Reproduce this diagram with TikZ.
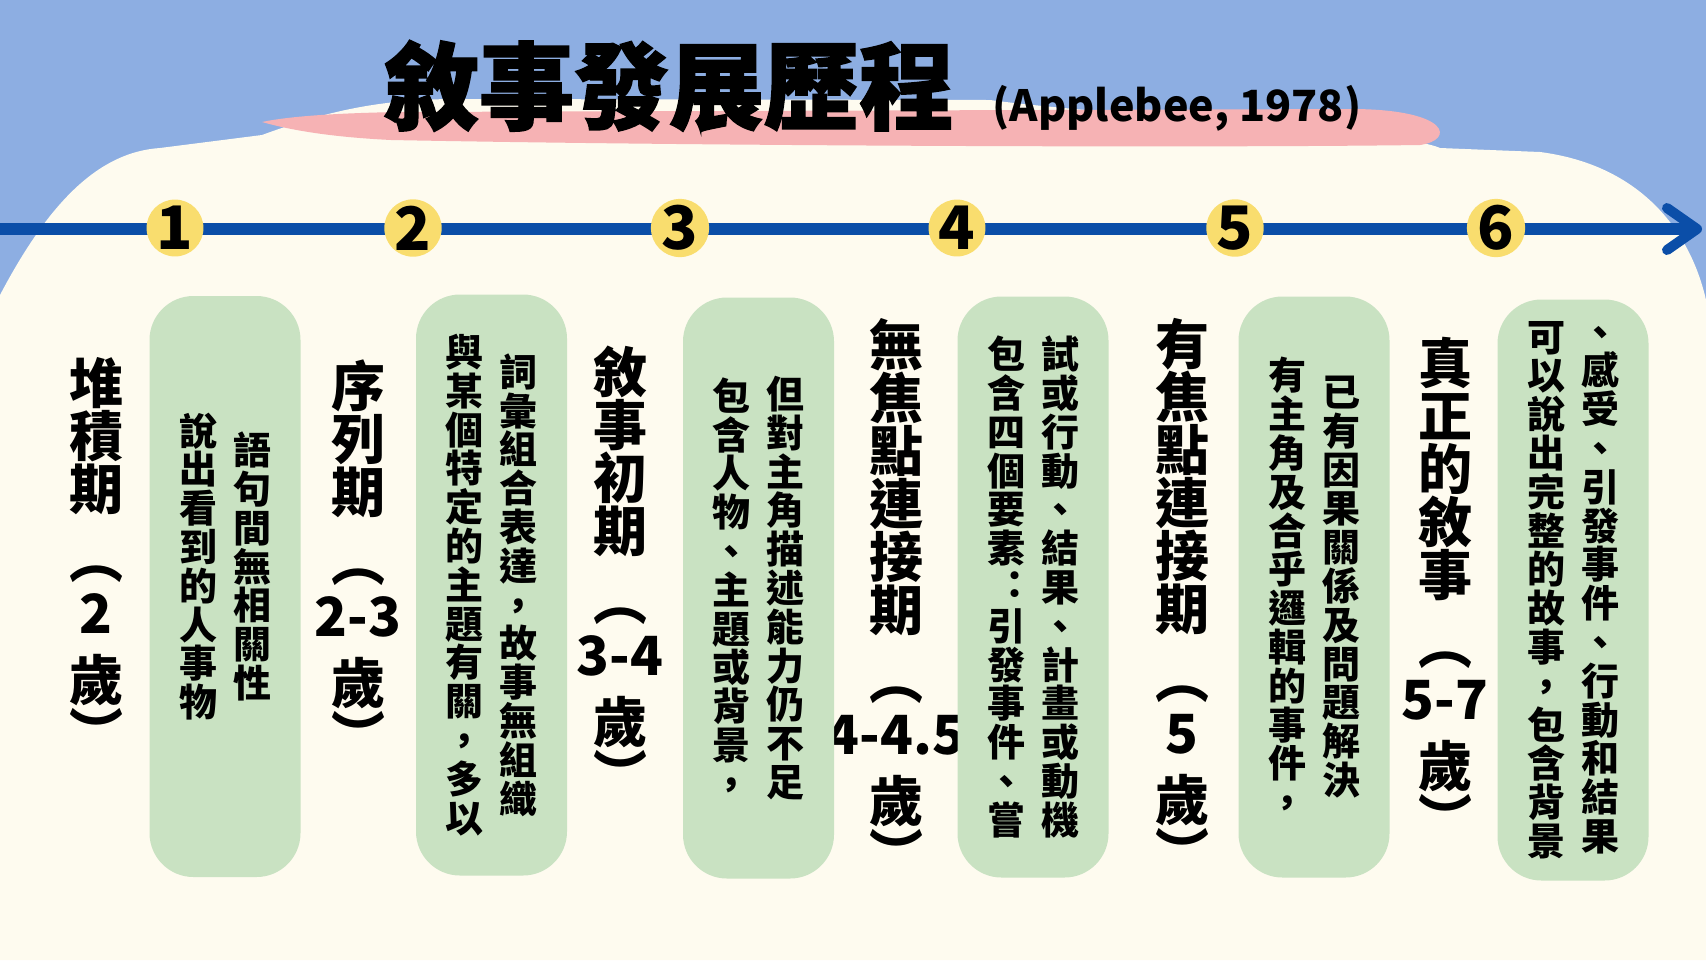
\documentclass[tikz,border=0pt]{standalone}
\usepackage{fontspec}
\setmainfont{Noto Sans CJK TC}
\newfontfamily\titlefont{Noto Sans CJK TC}[FakeBold=1.5]
\usetikzlibrary{arrows.meta}
\definecolor{skyblue}{RGB}{141,174,226}
\definecolor{cream}{RGB}{254,251,239}
\definecolor{sage}{RGB}{201,226,194}
\definecolor{blush}{RGB}{246,178,180}
\definecolor{sunny}{RGB}{249,221,110}
\definecolor{navy}{RGB}{11,78,168}
% stack the tokens of #1 one below the other
\makeatletter
\newcommand{\vstack}[1]{\def\vst@all{}\def\vst@sep{}%
    \@tfor\vst@ch:=#1\do{\edef\vst@all{\unexpanded\expandafter{\vst@all}%
        \unexpanded\expandafter{\vst@sep}\unexpanded\expandafter{\vst@ch}}\def\vst@sep{\\}}%
    \vst@all}
\makeatother
% age in vertical brackets under a stage name
\newcommand{\agetag}[1]{\\[8pt]︵\\[1pt]#1\\[7pt]歲\\︶}

\begin{document}
\begin{tikzpicture}[
            x=0.5pt, y=-0.5pt,
            >={Straight Barb[length=15pt,width=21pt,line width=5pt,round]},
                base/.style = {inner sep=0pt, align=center, text=black},
                stagelabel/.style = {base, font=\fontsize{27}{26.5}\selectfont\bfseries},
                notetext/.style = {base, font=\fontsize{19}{19.4}\selectfont\bfseries},
                notebox/.style = {rectangle, rounded corners=22pt, fill=sage,
                            minimum width=75.5pt, minimum height=290.5pt, inner sep=0pt},
                stepcircle/.style = {circle, fill=sunny, minimum size=25pt, inner sep=0pt,
                            font=\fontsize{30}{30}\selectfont\bfseries},
                axisline/.style = {draw=navy, line width=6pt}]
            \useasboundingbox (0,0) rectangle (1706,960);
            % background
            \fill[skyblue] (0,0) rectangle (1706,960);
            \fill[cream] (0,295) .. controls (50,200) and (100,152) .. (160,148) -- (262,135)
                .. controls (330,110) and (380,100) .. (450,99) -- (990,100)
                .. controls (1100,115) and (1400,130) .. (1440,148) -- (1540,152)
                .. controls (1640,165) and (1690,230) .. (1706,300) -- (1706,960) -- (0,960) -- cycle;
            \fill[blush] (262,122) .. controls (290,116) and (340,113) .. (400,112) -- (1355,109)
                .. controls (1450,110) and (1455,140) .. (1420,145)
                .. controls (1200,148) and (700,146) .. (391,140)
                .. controls (330,137) and (290,130) .. (262,122) -- cycle;
            % title
            \node (Title) [base, font=\titlefont\bfseries\fontsize{47.5}{50}\selectfont] at (669,86) {敘事發展歷程};
            \node (Source) [base, font=\fontsize{21.5}{24}\selectfont\bfseries] at (1177,108) {(Applebee, 1978)};
            % time axis
            \coordinate (AxisStart) at (0,229);
            \coordinate (AxisEnd) at (1702,229);
            \draw[axisline, ->] (AxisStart) -- (AxisEnd);
            \node (StepOne)   [stepcircle] at (175,228)  {1};
            \node (StepTwo)   [stepcircle] at (413,228)  {2};
            \node (StepThree) [stepcircle] at (680,228)  {3};
            \node (StepFour)  [stepcircle] at (957,228)  {4};
            \node (StepFive)  [stepcircle] at (1235,228) {5};
            \node (StepSix)   [stepcircle] at (1496,228) {6};
            % stages
            \node (HeapStage)      [stagelabel] at (96,555)   {\vstack{堆積期}\agetag{2}};
            \node (SequenceStage)  [stagelabel] at (358,558)  {\vstack{序列期}\agetag{2-3}};
            \node (PrimitiveStage) [stagelabel] at (620,571)  {\vstack{敘事初期}\agetag{3-4}};
            \node (UnfocusedChain) [stagelabel] at (896,596)  {\vstack{無焦點連接期}\agetag{4-4.5}};
            \node (FocusedChain)   [stagelabel] at (1182,596) {\vstack{有焦點連接期}\agetag{5}};
            \node (TrueNarrative)  [stagelabel] at (1445,588) {\vstack{真正的敘事}\agetag{5-7}};
            % notes
            \node (HeapNote)      [notebox] at (225,586.5)  {};
            \node (SequenceNote)  [notebox] at (491.5,585)  {};
            \node (PrimitiveNote) [notebox] at (758.5,588)  {};
            \node (UnfocusedNote) [notebox] at (1033,587)   {};
            \node (FocusedNote)   [notebox] at (1314,587)   {};
            \node (NarrativeNote) [notebox] at (1573,590)   {};
            \node (HeapNoteRight) [notetext, xshift=13.5pt, yshift=10pt] at (HeapNote.center) {\vstack{語句間無相關性}};
            \node (HeapNoteLeft)  [notetext, xshift=-13.5pt, yshift=10pt] at (HeapNote.center) {\vstack{說出看到的人事物}};
            \node (SequenceNoteRight) [notetext, xshift=13.5pt] at (SequenceNote.center) {\vstack{詞彙組合表達，故事無組織}};
            \node (SequenceNoteLeft)  [notetext, xshift=-13.5pt] at (SequenceNote.center) {\vstack{與某個特定的主題有關，多以}};
            \node (PrimitiveNoteRight) [notetext, xshift=13.5pt] at (PrimitiveNote.center) {\vstack{但對主角描述能力仍不足}};
            \node (PrimitiveNoteLeft)  [notetext, xshift=-13.5pt] at (PrimitiveNote.center) {\vstack{包含人物、主題或背景，}};
            \node (UnfocusedNoteRight) [notetext, xshift=13.5pt] at (UnfocusedNote.center) {\vstack{試或行動、結果、計畫或動機}};
            \node (UnfocusedNoteLeft)  [notetext, xshift=-13.5pt] at (UnfocusedNote.center) {\vstack{包含四個要素︓引發事件、嘗}};
            \node (FocusedNoteRight) [notetext, xshift=13.5pt] at (FocusedNote.center) {\vstack{已有因果關係及問題解決}};
            \node (FocusedNoteLeft)  [notetext, xshift=-13.5pt] at (FocusedNote.center) {\vstack{有主角及合乎邏輯的事件，}};
            \node (NarrativeNoteRight) [notetext, xshift=13.5pt] at (NarrativeNote.center) {\vstack{、感受、引發事件、行動和結果}};
            \node (NarrativeNoteLeft)  [notetext, xshift=-13.5pt] at (NarrativeNote.center) {\vstack{可以說出完整的故事，包含背景}};
        \end{tikzpicture}
\end{document}
